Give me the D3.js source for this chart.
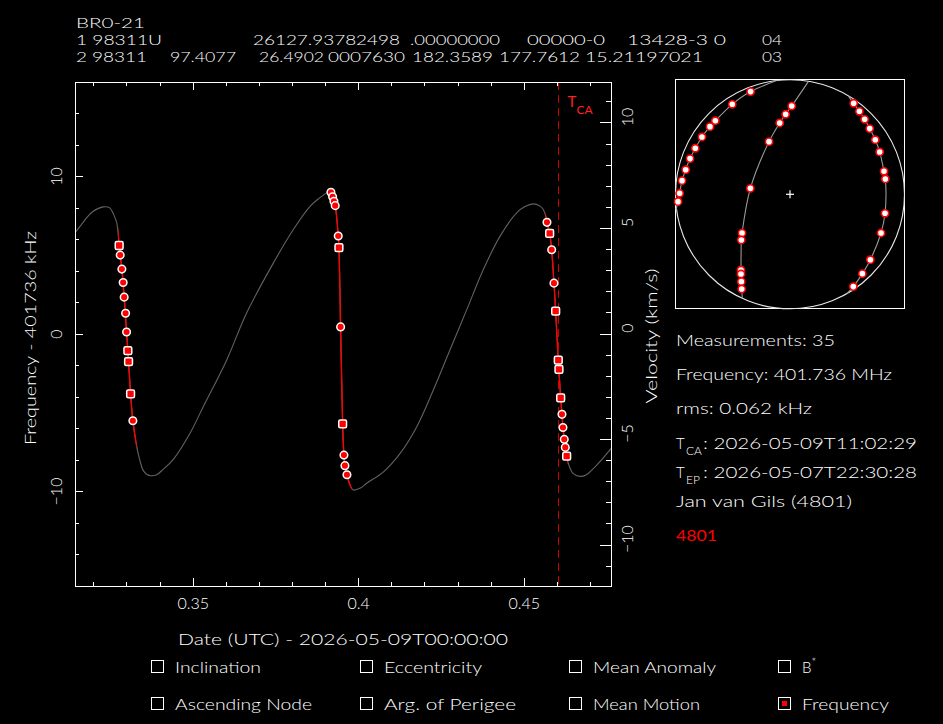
<!DOCTYPE html>
<html>
<head>
<meta charset="utf-8">
<script src="https://cdn.jsdelivr.net/npm/d3@7"></script>
<style>
  body { margin: 0; background: #000; }
  svg { display: block; }
  text { font-family: Lato, "DejaVu Sans", sans-serif; font-weight: 300; fill: #fff; }
</style>
</head>
<body>
<svg id="chart" width="943" height="724"></svg>
<script>
// =========================================
// DATA
// =========================================
const satName = "BR0-21";
const tleLine1 = ["1 98311U", "26127.93782498", ".00000000", "00000-0", "13428-3 0", "04"];
const tleLine2 = ["2 98311", "97.4077", "26.4902", "0007630", "182.3589", "177.7612", "15.21197021", "03"];

const f0kHz = 401736;          // rest frequency
const lightKms = 299792.458;
const dateDomain = [0.3143, 0.4762];   // days after 2026-05-09T00:00:00
const freqDomain = [-16, 16];          // kHz
const tcaDay = 0.46006;                // 11:02:29

const dateTicks = [0.35, 0.4, 0.45];
const freqTicks = [-10, 0, 10];
const velTicks = [-10, -5, 0, 5, 10];

// measured frequencies (35)
const obsTime = [0.32764, 0.32795, 0.32846, 0.32885, 0.32915, 0.32958, 0.32988, 0.33027, 0.33048, 0.33109, 0.33178,
                 0.39160, 0.39211, 0.39251, 0.39290, 0.39381, 0.39402, 0.39453, 0.39514, 0.39553, 0.39583, 0.39644,
                 0.45686, 0.45767, 0.45828, 0.45897, 0.45949, 0.46027, 0.46048, 0.46100, 0.46139, 0.46169, 0.46208, 0.46239, 0.46281];
const obsFreq = [5.62, 5.01, 4.12, 3.27, 2.34, 1.32, 0.13, -1.06, -1.76, -3.80, -5.51,
                 9.00, 8.71, 8.43, 8.15, 6.22, 5.48, 0.45, -5.71, -7.69, -8.36, -8.94,
                 7.09, 6.39, 5.35, 3.23, 1.45, -1.66, -2.25, -4.06, -5.10, -5.94, -6.69, -7.20, -7.75];
const obsMarker = "soooooossso" + "ooooososooo" + "osoossssoooos";

// model doppler curve
const modelTime = [0.3143, 0.3158, 0.3178, 0.3198, 0.3228, 0.3248, 0.3260, 0.3269, 0.3273,
  0.32764, 0.32846, 0.32915, 0.32988, 0.33048, 0.33109, 0.33178, 0.3329, 0.3339, 0.3349, 0.3360,
  0.3374, 0.3390, 0.3409, 0.3440, 0.3490, 0.3530, 0.3601, 0.3661, 0.3742, 0.3802, 0.3853, 0.3883,
  0.3903, 0.3913, 0.39211, 0.39290, 0.39381, 0.39402, 0.39453, 0.39514, 0.39553, 0.39583, 0.39644,
  0.39719, 0.39834, 0.40036, 0.40239, 0.40740, 0.41245, 0.41749, 0.42251, 0.42755, 0.43260, 0.43761,
  0.44266, 0.44770, 0.45021, 0.45272, 0.45474, 0.45574, 0.45640, 0.45686, 0.45767, 0.45828, 0.45897,
  0.45949, 0.46027, 0.46100, 0.46139, 0.46169, 0.46208, 0.46239, 0.46281, 0.46350, 0.46480, 0.46683,
  0.46864, 0.47085, 0.47347, 0.47619];
const modelFreq = [6.43, 6.83, 7.37, 7.79, 8.07, 8.01, 7.58, 7.05, 6.41,
  5.62, 4.12, 2.34, 0.13, -1.76, -3.80, -5.51, -7.07, -8.03, -8.66, -8.92,
  -9.00, -8.93, -8.60, -7.96, -6.32, -4.63, -1.66, 1.32, 4.50, 6.62, 8.11, 8.66,
  8.96, 9.06, 8.71, 8.15, 6.22, 5.48, 0.45, -5.71, -7.69, -8.36, -8.94,
  -9.49, -9.90, -9.80, -9.48, -8.77, -7.60, -5.90, -3.57, -1.02, 1.53, 4.08,
  6.20, 7.69, 8.09, 8.26, 8.12, 7.90, 7.55, 7.09, 6.39, 5.35, 3.23,
  1.45, -1.66, -4.06, -5.10, -5.94, -6.69, -7.20, -7.75, -8.34, -8.87, -9.04,
  -8.95, -8.55, -7.96, -7.28];

// fitted passes drawn in red
const passWindows = [[0.3273, 0.3329], [0.3913, 0.3979], [0.4564, 0.4632]];

// sky plot (east / north, horizon = 1)
const skyPass1X = [-0.344, -0.504, -0.652, -0.699, -0.769, -0.827, -0.873, -0.911, -0.943, -0.964, -0.978];
const skyPass1Y = [0.897, 0.786, 0.643, 0.591, 0.501, 0.402, 0.312, 0.215, 0.119, 0.009, -0.064];
const skyPass2X = [0.015, -0.038, -0.090, -0.183, -0.346, -0.419, -0.425, -0.428, -0.428, -0.425, -0.422];
const skyPass2Y = [0.771, 0.699, 0.623, 0.460, 0.052, -0.338, -0.399, -0.661, -0.696, -0.763, -0.827];
const skyPass3X = [0.556, 0.606, 0.652, 0.696, 0.745, 0.783, 0.821, 0.833, 0.830, 0.795, 0.702, 0.632, 0.553];
const skyPass3Y = [0.795, 0.725, 0.655, 0.574, 0.477, 0.370, 0.201, 0.134, -0.166, -0.338, -0.571, -0.693, -0.806];
const skyRise = [[-0.116, 0.993], [0.160, 0.984], [0.509, 0.859]];
const skySet = [[-0.996, -0.137], [-0.416, -0.908], [0.495, -0.870]];

const infoLines = ["Measurements: 35", "Frequency: 401.736 MHz", "rms: 0.062 kHz"];
const tcaText = ": 2026-05-09T11:02:29";
const tepText = ": 2026-05-07T22:30:28";
const observer = "Jan van Gils (4801)";
const siteId = "4801";

const xLabel = "Date (UTC) - 2026-05-09T00:00:00";
const yLabel = "Frequency - 401736 kHz";
const vLabel = "Velocity (km/s)";

const fitRow1 = ["Inclination", "Eccentricity", "Mean Anomaly", "B"];
const fitRow2 = ["Ascending Node", "Arg. of Perigee", "Mean Motion", "Frequency"];
const fitChecked = "Frequency";

// =========================================
// SETUP
// =========================================
const svg = d3.select("#chart");
svg.append("rect").attr("width", 943).attr("height", 724).attr("fill", "#000");

function label(x, y, s, size, len) {
    const t = svg.append("text").attr("x", x).attr("y", y)
        .style("font-size", size + "px").text(s);
    if (len) t.attr("textLength", len).attr("lengthAdjust", "spacingAndGlyphs");
    return t;
}

// header
label(76, 27.5, satName, 14, 69);
const tle1X = [76, 253, 410, 527, 627, 762], tle1W = [86, 147, 90, 78, 99, 20];
const tle2X = [76, 170, 259, 328, 412, 499, 585, 762], tle2W = [71, 66, 65, 77, 81, 81, 118, 20];
tleLine1.forEach((s, i) => label(tle1X[i], 44.5, s, 14, tle1W[i]));
tleLine2.forEach((s, i) => label(tle2X[i], 61.5, s, 14, tle2W[i]));

// =========================================
// MAIN DOPPLER PLOT
// =========================================
const plot = { left: 75, right: 611, top: 82, bottom: 586 };

const x = d3.scaleLinear().domain(dateDomain).range([plot.left, plot.right]);
const y = d3.scaleLinear().domain(freqDomain).range([plot.bottom, plot.top]);
const v = d3.scaleLinear()
    .domain(freqDomain.map(f => f * lightKms / f0kHz))
    .range([plot.bottom, plot.top]);

const defs = svg.append("defs");
defs.append("clipPath").attr("id", "plotclip").append("rect")
    .attr("x", plot.left).attr("y", plot.top)
    .attr("width", plot.right - plot.left).attr("height", plot.bottom - plot.top);

passWindows.forEach((w, i) => {
    defs.append("clipPath").attr("id", "pass" + i).append("rect")
        .attr("x", x(w[0])).attr("y", plot.top)
        .attr("width", x(w[1]) - x(w[0])).attr("height", plot.bottom - plot.top);
});

const modelPts = d3.zip(modelTime, modelFreq);
const line = d3.line()
    .x(d => x(d[0]))
    .y(d => y(d[1]))
    .curve(d3.curveCatmullRom.alpha(0.5));

const plotG = svg.append("g").attr("clip-path", "url(#plotclip)");

plotG.append("path")
    .attr("d", line(modelPts))
    .attr("fill", "none")
    .attr("stroke", "#626262")
    .attr("stroke-width", 1.1);

passWindows.forEach((w, i) => {
    plotG.append("path")
        .attr("d", line(modelPts))
        .attr("clip-path", `url(#pass${i})`)
        .attr("fill", "none")
        .attr("stroke", "#ff0000")
        .attr("stroke-width", 1.4);
});

// TCA marker
plotG.append("line")
    .attr("x1", Math.round(x(tcaDay)) + 0.5).attr("x2", Math.round(x(tcaDay)) + 0.5)
    .attr("y1", plot.top).attr("y2", plot.bottom)
    .attr("stroke", "#cc0000")
    .attr("stroke-width", 1)
    .attr("stroke-dasharray", "8 5");

const tcaLbl = svg.append("text").attr("x", x(tcaDay) + 10).attr("y", 107)
    .style("font-size", "15px").style("font-weight", 400).style("fill", "#ff2020");
tcaLbl.append("tspan").text("T");
tcaLbl.append("tspan").attr("dy", 7).style("font-size", "12px").text("CA");

// measurements
const obs = obsTime.map((t, i) => ({ t, f: obsFreq[i], m: obsMarker[i] }));
plotG.selectAll(".obs-c")
    .data(obs.filter(d => d.m === "o"))
    .join("circle")
    .attr("cx", d => x(d.t))
    .attr("cy", d => y(d.f))
    .attr("r", 3.8)
    .attr("fill", "#ff0000")
    .attr("stroke", "#fff")
    .attr("stroke-width", 1.5);
plotG.selectAll(".obs-s")
    .data(obs.filter(d => d.m === "s"))
    .join("rect")
    .attr("x", d => x(d.t) - 3.9)
    .attr("y", d => y(d.f) - 3.9)
    .attr("width", 7.8)
    .attr("height", 7.8)
    .attr("rx", 1.5)
    .attr("fill", "#ff0000")
    .attr("stroke", "#fff")
    .attr("stroke-width", 1.5);

// frame
svg.append("rect")
    .attr("x", plot.left + 0.5).attr("y", plot.top + 0.5)
    .attr("width", plot.right - plot.left).attr("height", plot.bottom - plot.top)
    .attr("fill", "none").attr("stroke", "#fff").attr("stroke-width", 1);

// ticks
const tickG = svg.append("g").attr("stroke", "#fff").attr("stroke-width", 1)
    .attr("shape-rendering", "crispEdges");
function xTicks(vals, len) {
    tickG.selectAll(null).data(vals).join("line")
        .attr("x1", d => x(d)).attr("x2", d => x(d))
        .attr("y1", plot.bottom).attr("y2", plot.bottom - len);
    tickG.selectAll(null).data(vals).join("line")
        .attr("x1", d => x(d)).attr("x2", d => x(d))
        .attr("y1", plot.top).attr("y2", plot.top + len);
}
xTicks(x.ticks(16), 4);
xTicks(dateTicks, 8);

tickG.selectAll(null).data(y.ticks(16)).join("line")
    .attr("x1", plot.left).attr("x2", plot.left + 4)
    .attr("y1", d => y(d)).attr("y2", d => y(d));
tickG.selectAll(null).data(freqTicks).join("line")
    .attr("x1", plot.left).attr("x2", plot.left + 8)
    .attr("y1", d => y(d)).attr("y2", d => y(d));

tickG.selectAll(null).data(v.ticks(20)).join("line")
    .attr("x1", plot.right).attr("x2", plot.right - 5)
    .attr("y1", d => v(d)).attr("y2", d => v(d));
tickG.selectAll(null).data(velTicks).join("line")
    .attr("x1", plot.right).attr("x2", plot.right - 11)
    .attr("y1", d => v(d)).attr("y2", d => v(d));

// tick labels
svg.selectAll(".xtl").data(dateTicks).join("text")
    .attr("x", d => x(d)).attr("y", 609)
    .attr("text-anchor", "middle")
    .style("font-size", "16px")
    .text(d => d3.format("")(d));

svg.selectAll(".ytl").data(freqTicks).join("text")
    .attr("transform", d => `translate(62,${y(d)}) rotate(-90)`)
    .attr("text-anchor", "middle")
    .style("font-size", "16px")
    .text(d => d < 0 ? "\u2212" + Math.abs(d) : d);

svg.selectAll(".vtl").data(velTicks).join("text")
    .attr("transform", d => `translate(633,${v(d) - 6}) rotate(-90)`)
    .attr("text-anchor", "middle")
    .style("font-size", "16px")
    .text(d => d < 0 ? "\u2212" + Math.abs(d) : d);

// axis titles
label(178, 645, xLabel, 16, 330);
svg.append("text")
    .attr("transform", "translate(36,338) rotate(-90)")
    .attr("text-anchor", "middle")
    .style("font-size", "16px")
    .attr("textLength", 214).attr("lengthAdjust", "spacingAndGlyphs")
    .text(yLabel);
svg.append("text")
    .attr("transform", "translate(657,336) rotate(-90)")
    .attr("text-anchor", "middle")
    .style("font-size", "16px")
    .attr("textLength", 135).attr("lengthAdjust", "spacingAndGlyphs")
    .text(vLabel);

// =========================================
// SKY PLOT
// =========================================
const sky = { cx: 790, cy: 194.3, r: 114.5 };
const sx = d3.scaleLinear().domain([-1, 1]).range([sky.cx - sky.r, sky.cx + sky.r]);
const sy = d3.scaleLinear().domain([-1, 1]).range([sky.cy + sky.r, sky.cy - sky.r]);

svg.append("rect")
    .attr("x", 675.5).attr("y", 79.5).attr("width", 229).attr("height", 229)
    .attr("fill", "none").attr("stroke", "#fff").attr("stroke-width", 1);

svg.append("circle")
    .attr("cx", sx(0)).attr("cy", sy(0)).attr("r", sx(1) - sx(0))
    .attr("fill", "none").attr("stroke", "#e8e8e8").attr("stroke-width", 1.1);

svg.append("g").attr("stroke", "#fff").attr("stroke-width", 1.2)
    .selectAll("line").data([[-1, 0, 1, 0], [0, -1, 0, 1]]).join("line")
    .attr("x1", d => sx(0) + d[0] * 4).attr("x2", d => sx(0) + d[2] * 4)
    .attr("y1", d => sy(0) + d[1] * 4).attr("y2", d => sy(0) + d[3] * 4);

const skyPasses = [[skyPass1X, skyPass1Y], [skyPass2X, skyPass2Y], [skyPass3X, skyPass3Y]];
const skyLine = d3.line().x(d => sx(d[0])).y(d => sy(d[1])).curve(d3.curveCatmullRom);

skyPasses.forEach(([px, py], i) => {
    const pts = d3.zip(px, py);
    svg.append("path")
        .attr("d", skyLine([skyRise[i], ...pts, skySet[i]]))
        .attr("fill", "none").attr("stroke", "#9a9a9a").attr("stroke-width", 1.1);
});
skyPasses.forEach(([px, py]) => {
    svg.append("g").selectAll("circle").data(d3.zip(px, py)).join("circle")
        .attr("cx", d => sx(d[0])).attr("cy", d => sy(d[1])).attr("r", 3.6)
        .attr("fill", "#fff").attr("stroke", "#ff0000").attr("stroke-width", 1.6);
});

// =========================================
// INFO TEXT
// =========================================
const infoY = [346, 380, 414];
const infoW = [159, 216, 136];
infoLines.forEach((s, i) => label(676, infoY[i], s, 15, infoW[i]));

function subLabel(y, sub, rest) {
    const t = svg.append("text").attr("x", 676).attr("y", y).style("font-size", "15px");
    t.append("tspan").text("T");
    t.append("tspan").attr("x", 686).attr("dy", 6).style("font-size", "12px").text(sub);
    label(703, y, rest, 15, 214);
}
subLabel(449, "CA", tcaText);
subLabel(478, "EP", tepText);
label(676, 507, observer, 15, 176);
label(676, 541, siteId, 15, 41).style("fill", "#ff0000").style("font-weight", 400);

// =========================================
// FIT PARAMETER CHECKBOXES
// =========================================
const colX = [151, 360, 569, 778];
const fitW = [[86, 98, 123, 0], [137, 132, 107, 87]];
[fitRow1, fitRow2].forEach((row, r) => {
    const by = r === 0 ? 660 : 697;
    row.forEach((name, c) => {
        svg.append("rect")
            .attr("x", colX[c] + 0.5).attr("y", by + 0.5).attr("width", 12).attr("height", 12)
            .attr("fill", "none").attr("stroke", "#fff").attr("stroke-width", 1);
        if (name === fitChecked) {
            svg.append("rect")
                .attr("x", colX[c] + 4).attr("y", by + 4).attr("width", 5).attr("height", 5)
                .attr("fill", "#ff0000");
        }
        const t = label(colX[c] + 24, by + 13, name, 15, fitW[r][c] || null);
        if (name === "B") t.append("tspan").attr("dy", -7).style("font-size", "11px").text("*");
    });
});
</script>
</body>
</html>
